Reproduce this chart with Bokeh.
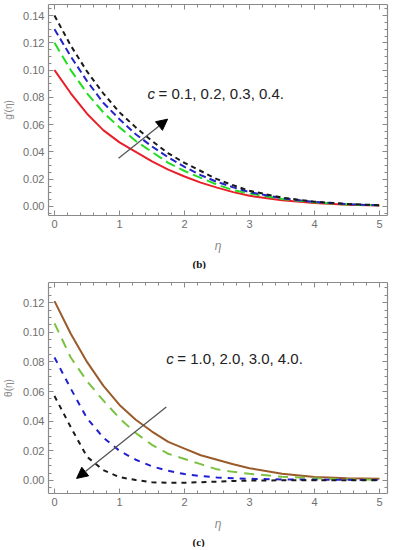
from bokeh.plotting import figure
from bokeh.models import (Range1d, LinearAxis, Arrow, NormalHead, Title, SingleIntervalTicker,
                          NumeralTickFormatter, CustomLabelingPolicy)
from bokeh.layouts import column
from bokeh.embed import file_html
from bokeh.resources import INLINE
from bokeh.core.properties import value

# eta grid
eta = [0, 0.25, 0.5, 0.75, 1.0, 1.25, 1.5, 1.75, 2.0, 2.25, 2.5, 2.75, 3.0, 3.5, 4.0, 4.5, 5.0]

# panel (b): g'(eta) for c = 0.1, 0.2, 0.3, 0.4
g_c1 = [0.100, 0.083, 0.068, 0.056, 0.047, 0.040, 0.033, 0.027, 0.022, 0.0175, 0.0138, 0.0105, 0.0078, 0.0045, 0.0025, 0.0013, 0.0007]
g_c2 = [0.120, 0.100, 0.083, 0.069, 0.058, 0.048, 0.040, 0.032, 0.026, 0.021, 0.016, 0.012, 0.0095, 0.0055, 0.0030, 0.0015, 0.0008]
g_c3 = [0.130, 0.110, 0.092, 0.076, 0.064, 0.053, 0.044, 0.036, 0.029, 0.023, 0.018, 0.014, 0.0105, 0.0060, 0.0033, 0.0017, 0.0008]
g_c4 = [0.140, 0.118, 0.099, 0.083, 0.069, 0.058, 0.048, 0.039, 0.032, 0.026, 0.020, 0.0155, 0.0115, 0.0065, 0.0035, 0.0018, 0.0009]

# panel (c): theta(eta) for c = 1.0, 2.0, 3.0, 4.0
t_c1 = [0.121, 0.099, 0.080, 0.064, 0.051, 0.041, 0.033, 0.026, 0.0215, 0.017, 0.014, 0.011, 0.0083, 0.0045, 0.0023, 0.0015, 0.0011]
t_c2 = [0.106, 0.083, 0.067, 0.054, 0.042, 0.032, 0.024, 0.018, 0.0145, 0.011, 0.0075, 0.0058, 0.0045, 0.0025, 0.0015, 0.0008, 0.0005]
t_c3 = [0.083, 0.062, 0.042, 0.029, 0.020, 0.014, 0.0095, 0.0065, 0.0043, 0.0030, 0.0020, 0.0015, 0.0011, 0.0007, 0.0005, 0.0004, 0.0003]
t_c4 = [0.057, 0.036, 0.016, 0.007, 0.0022, 0.0003, -0.0012, -0.0016, -0.0015, -0.0012, -0.0008, -0.0004, -0.0001, 0.0001, 0.0002, 0.0002, 0.0002]

label_b = "= 0.1, 0.2, 0.3, 0.4."
label_c = "= 1.0, 2.0, 3.0, 4.0."

GRAY = "#8a8a8a"
TICKGRAY = "#6e6e6e"
FONT = "Liberation Sans"

HIDE_LABELS = """
const all = [...indices];
for (const i of all) indices.unset(i);
return indices;
"""


def style_axis(ax, ticker, show_labels):
    ax.ticker = ticker
    ax.axis_line_color = GRAY
    ax.axis_line_width = 1.2
    ax.major_tick_line_color = GRAY
    ax.minor_tick_line_color = GRAY
    ax.major_tick_in = 5
    ax.major_tick_out = 0
    ax.minor_tick_in = 3
    ax.minor_tick_out = 0
    if show_labels:
        ax.major_label_text_color = TICKGRAY
        ax.major_label_text_font = FONT
        ax.major_label_text_font_size = "11px"
        ax.major_label_standoff = 4
    else:
        ax.major_label_text_font_size = "1px"
        ax.major_label_standoff = 0
        ax.major_label_policy = CustomLabelingPolicy(code=HIDE_LABELS)


def make_fig(height, yr, top_border, ylabel, tag, tag_offset):
    p = figure(width=394, height=height, x_range=Range1d(-0.0923, 5.123), y_range=Range1d(*yr),
               output_backend="svg", toolbar_location=None,
               min_border_left=48, min_border_right=7, min_border_top=top_border, min_border_bottom=0)
    p.grid.visible = False
    p.outline_line_color = None
    xt = lambda: SingleIntervalTicker(interval=1, num_minor_ticks=5)
    yt = lambda: SingleIntervalTicker(interval=0.02, num_minor_ticks=4)
    style_axis(p.xaxis[0], xt(), True)
    style_axis(p.yaxis[0], yt(), True)
    p.yaxis[0].formatter = NumeralTickFormatter(format="0.00")
    p.xaxis.axis_label = "η"
    p.xaxis.axis_label_text_font = FONT
    p.xaxis.axis_label_text_font_style = "italic"
    p.xaxis.axis_label_text_font_size = "12px"
    p.xaxis.axis_label_text_color = GRAY
    p.xaxis.axis_label_standoff = 8
    p.yaxis.axis_label = ylabel
    p.yaxis.axis_label_text_font = FONT
    p.yaxis.axis_label_text_font_style = "normal"
    p.yaxis.axis_label_text_font_size = "10px"
    p.yaxis.axis_label_text_color = GRAY
    p.yaxis.axis_label_standoff = 6
    top = LinearAxis()
    style_axis(top, xt(), False)
    right = LinearAxis()
    style_axis(right, yt(), False)
    p.add_layout(top, "above")
    p.add_layout(right, "right")
    p.add_layout(Title(text=tag, align="left", offset=tag_offset, text_font="Liberation Serif",
                       text_font_style="bold", text_font_size="11px", text_color="#111111",
                       standoff=0), "below")
    return p


p1 = make_fig(269, (-0.00663, 0.1481), 4, "g′(η)", "(b)", 144)
p1.line(eta, g_c1, line_color="#e8202a", line_width=2)
p1.line(eta, g_c2, line_color="#22dd22", line_width=2, line_dash="10 5")
p1.line(eta, g_c3, line_color="#2424c8", line_width=2, line_dash="7 4")
p1.line(eta, g_c4, line_color="#1a1a1a", line_width=2, line_dash="5 4")
p1.text(x=[1.43], y=[0.0825], text=["c"], text_font=value(FONT), text_font_style="italic",
        text_font_size="15px", text_baseline="middle", text_color="#222222")
p1.text(x=[1.60], y=[0.0825], text=[label_b], text_font=value(FONT),
        text_font_size="15px", text_baseline="middle", text_color="#222222")
p1.add_layout(Arrow(end=NormalHead(size=11, fill_color="black", line_color="black"),
                    x_start=0.985, y_start=0.0354, x_end=1.74, y_end=0.064,
                    line_color="#555555", line_width=1.3))

p2 = make_fig(278, (-0.0088, 0.1336), 13, "θ(η)", "(c)", 144)
p2.line(eta, t_c1, line_color="#9a5a2a", line_width=2)
p2.line(eta, t_c2, line_color="#7cc242", line_width=2, line_dash="10 7")
p2.line(eta, t_c3, line_color="#2020d0", line_width=2, line_dash="6 6")
p2.line(eta, t_c4, line_color="#1a1a1a", line_width=2, line_dash="5 5")
p2.text(x=[1.72], y=[0.082], text=["c"], text_font=value(FONT), text_font_style="italic",
        text_font_size="15px", text_baseline="middle", text_color="#222222")
p2.text(x=[1.89], y=[0.082], text=[label_c], text_font=value(FONT),
        text_font_size="15px", text_baseline="middle", text_color="#222222")
p2.add_layout(Arrow(end=NormalHead(size=11, fill_color="black", line_color="black"),
                    x_start=1.72, y_start=0.0495, x_end=0.34, y_end=0.0014,
                    line_color="#555555", line_width=1.3))

layout = column(p1, p2, spacing=0)
open("out.html", "w").write(file_html(layout, INLINE))
